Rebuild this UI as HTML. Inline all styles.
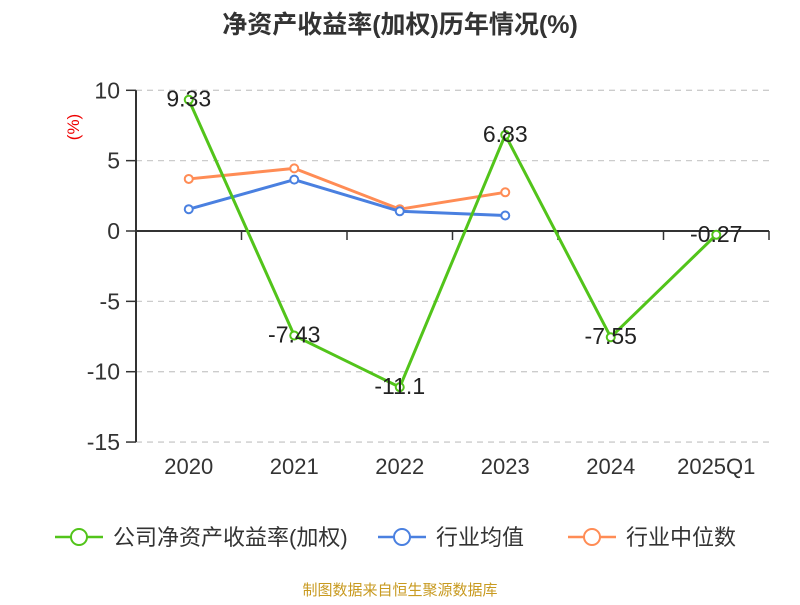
<!DOCTYPE html>
<html><head><meta charset="utf-8"><style>
body{margin:0;background:#fff;}
svg text{font-family:"Liberation Sans","Noto Sans CJK SC",sans-serif;}
</style></head><body>
<svg id="chart" width="800" height="600" xmlns="http://www.w3.org/2000/svg">
<text x="400" y="33" text-anchor="middle" font-size="25" font-weight="bold" fill="#333">净资产收益率(加权)历年情况(%)</text>
<text transform="translate(79,127) rotate(-90)" text-anchor="middle" font-size="17" fill="#e00">(%)</text>
<g id="grid"></g><g id="series"></g>
<g>
<g><line x1="55" y1="537" x2="103" y2="537" stroke="#52c41a" stroke-width="2.5"/><circle cx="79" cy="537" r="8" fill="#fff" stroke="#52c41a" stroke-width="2"/><text x="113" y="545" font-size="22" fill="#333">公司净资产收益率(加权)</text></g>
<g><line x1="378" y1="537" x2="426" y2="537" stroke="#4a80e0" stroke-width="2.5"/><circle cx="402" cy="537" r="8" fill="#fff" stroke="#4a80e0" stroke-width="2"/><text x="436" y="545" font-size="22" fill="#333">行业均值</text></g>
<g><line x1="568" y1="537" x2="616" y2="537" stroke="#ff8c55" stroke-width="2.5"/><circle cx="592" cy="537" r="8" fill="#fff" stroke="#ff8c55" stroke-width="2"/><text x="626" y="545" font-size="22" fill="#333">行业中位数</text></g>
</g>
<text x="400" y="595" text-anchor="middle" font-size="15" fill="#c89a20">制图数据来自恒生聚源数据库</text>
</svg>
<script>
const categories=["2020","2021","2022","2023","2024","2025Q1"];
const companyRoe=[9.33,-7.43,-11.1,6.83,-7.55,-0.27];
const industryAvg=[1.55,3.65,1.4,1.1];
const industryMedian=[3.7,4.45,1.55,2.75];
const yTicks=[10,5,0,-5,-10,-15];
const NS="http://www.w3.org/2000/svg";
const x0=136,x1=769,bw=(x1-x0)/categories.length;
const xPos=i=>x0+bw*(i+0.5);
const yPos=v=>231-v*14.07;
function mk(t,a,p){const e=document.createElementNS(NS,t);for(const k in a)e.setAttribute(k,a[k]);p.appendChild(e);return e;}
const g=document.getElementById('grid'),s=document.getElementById('series');
yTicks.forEach(v=>{const y=yPos(v);
 if(v!==0){const l=mk('line',{x1:x0,x2:x1,y1:y,y2:y,stroke:'#ccc','stroke-dasharray':'6,5','stroke-width':1.3},g);
 }
 const tk=mk('line',{x1:x0-10,x2:x0,y1:y,y2:y,stroke:'#333','stroke-width':1.5},g);
 
 const t=mk('text',{x:x0-16,y:y+8,'text-anchor':'end','font-size':23,fill:'#333'},g);t.textContent=v;
 });
const ya=mk('line',{x1:x0,x2:x0,y1:yPos(10),y2:yPos(-15),stroke:'#333','stroke-width':2},g);

const xa=mk('line',{x1:x0,x2:x1,y1:yPos(0),y2:yPos(0),stroke:'#333','stroke-width':2},g);

for(let i=0;i<=categories.length;i++){const x=x0+bw*i;
 const tk=mk('line',{x1:x,x2:x,y1:yPos(0),y2:yPos(0)+9,stroke:'#333','stroke-width':1.5},g);
 }
categories.forEach((c,i)=>{const t=mk('text',{x:xPos(i),y:474,'text-anchor':'middle','font-size':22,fill:'#333'},g);t.textContent=c;
 });
function series(data,color,name,labels){
 const pts=data.map((v,i)=>xPos(i)+','+yPos(v)).join(' ');
 const pl=mk('polyline',{points:pts,fill:'none',stroke:color,'stroke-width':3,'stroke-linejoin':'round'},s);
 
 data.forEach((v,i)=>{const c=mk('circle',{cx:xPos(i),cy:yPos(v),r:4,fill:'#fff',stroke:color,'stroke-width':2},s);
  
  if(labels){const t=mk('text',{x:xPos(i),y:yPos(v)+7,'text-anchor':'middle','font-size':23,fill:'#222'},s);t.textContent=v;
   }});
}
series(industryMedian,'#ff8c55','industry-median',false);
series(industryAvg,'#4a80e0','industry-avg',false);
series(companyRoe,'#52c41a','company-roe',true);
</script>
</body></html>
